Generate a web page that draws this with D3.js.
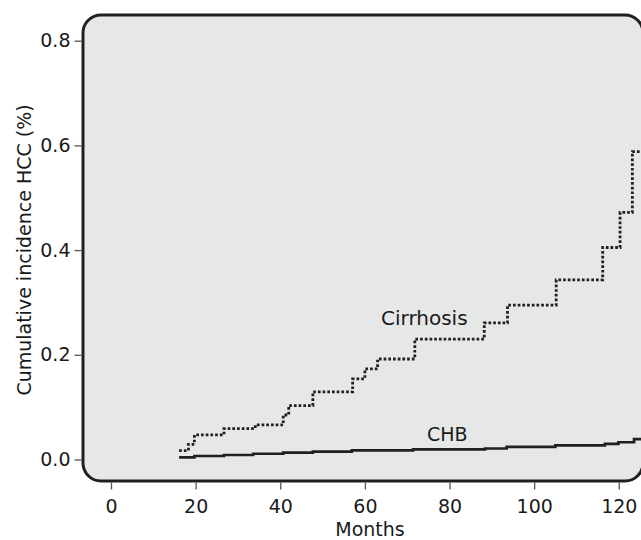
<!DOCTYPE html>
<html>
<head>
<meta charset="utf-8">
<script src="https://cdn.jsdelivr.net/npm/d3@7"></script>
<style>
  body { margin: 0; background: #fff; }
  svg text { font-family: "DejaVu Sans", sans-serif; fill: #1a1a1a; }
</style>
</head>
<body>
<div id="graf"></div>
<script>
// Data
const cirrhosisMonths = [16.1, 18.3, 19.7, 26.7, 34.1, 40.7, 42.0, 47.7, 57.1, 60.0, 63.0, 71.8, 88.2, 93.7, 105.2, 116.2, 120.3, 123.2, 125.5];
const cirrhosisValues = [0.017, 0.029, 0.047, 0.059, 0.066, 0.085, 0.103, 0.129, 0.154, 0.173, 0.192, 0.230, 0.261, 0.295, 0.343, 0.405, 0.472, 0.588, 0.588];
const chbMonths = [16.1, 19.7, 26.7, 33.6, 40.7, 47.7, 56.9, 71.4, 88.4, 93.5, 105.0, 116.7, 119.9, 123.6, 125.5];
const chbValues = [0.004, 0.0067, 0.0086, 0.011, 0.013, 0.015, 0.0176, 0.0195, 0.021, 0.024, 0.027, 0.030, 0.033, 0.039, 0.039];
const xTicks = [0, 20, 40, 60, 80, 100, 120];
const yTicks = [0.0, 0.2, 0.4, 0.6, 0.8];

const width = 641, height = 540;
const panel = { left: 83, top: 15, right: 643, bottom: 481 };

const svg = d3.select("#graf").append("svg")
    .attr("width", width)
    .attr("height", height);

// Scales
const x = d3.scaleLinear().domain([0, 120]).range([111, 618.8]);
const y = d3.scaleLinear().domain([0, 0.8]).range([459.5, 40.7]);

// Panel (rounded box)
svg.append("rect")
    .attr("x", panel.left)
    .attr("y", panel.top)
    .attr("width", panel.right - panel.left)
    .attr("height", panel.bottom - panel.top)
    .attr("rx", 18)
    .attr("fill", "#e6e7e7")
    .attr("stroke", "#231f20")
    .attr("stroke-width", 3);

// Axes
const yAxis = d3.axisLeft(y).tickValues(yTicks).tickFormat(d3.format(".1f")).tickSize(7).tickPadding(4);
const xAxis = d3.axisBottom(x).tickValues(xTicks).tickFormat(d3.format("d")).tickSize(7).tickPadding(10);

const gy = svg.append("g").attr("transform", `translate(${panel.left - 1.5},0)`).call(yAxis);
const gx = svg.append("g").attr("transform", `translate(0,${panel.bottom + 1.5})`).call(xAxis);
[gy, gx].forEach((g) => {
    g.select(".domain").remove();
    g.selectAll(".tick line").attr("stroke", "#555").attr("stroke-width", 1.3);
    g.selectAll(".tick text").attr("font-size", 19).attr("fill", "#1a1a1a")
        .style("font-family", "'DejaVu Sans', sans-serif");
});

// Step lines
const toPoints = (ms, vs) => ms.map((m, i) => [m, vs[i]]);
const line = d3.line()
    .x((d) => x(d[0]))
    .y((d) => y(d[1]))
    .curve(d3.curveStepAfter);

svg.append("path")
    .datum(toPoints(chbMonths, chbValues))
    .attr("d", line)
    .attr("fill", "none")
    .attr("stroke", "#231f20")
    .attr("stroke-width", 2.7);

svg.append("path")
    .datum(toPoints(cirrhosisMonths, cirrhosisValues))
    .attr("d", line)
    .attr("fill", "none")
    .attr("stroke", "#231f20")
    .attr("stroke-width", 2.8)
    .attr("stroke-dasharray", "2.7,2");

// Series labels
svg.append("text")
    .attr("x", 381)
    .attr("y", 325)
    .attr("font-size", 20)
    .text("Cirrhosis");

svg.append("text")
    .attr("x", 427)
    .attr("y", 441)
    .attr("font-size", 19)
    .text("CHB");

// Axis titles
svg.append("text")
    .attr("x", 370)
    .attr("y", 536)
    .attr("text-anchor", "middle")
    .attr("font-size", 19)
    .text("Months");

svg.append("text")
    .attr("transform", "translate(31,250) rotate(-90)")
    .attr("text-anchor", "middle")
    .attr("font-size", 19)
    .text("Cumulative incidence HCC (%)");
</script>
</body>
</html>
